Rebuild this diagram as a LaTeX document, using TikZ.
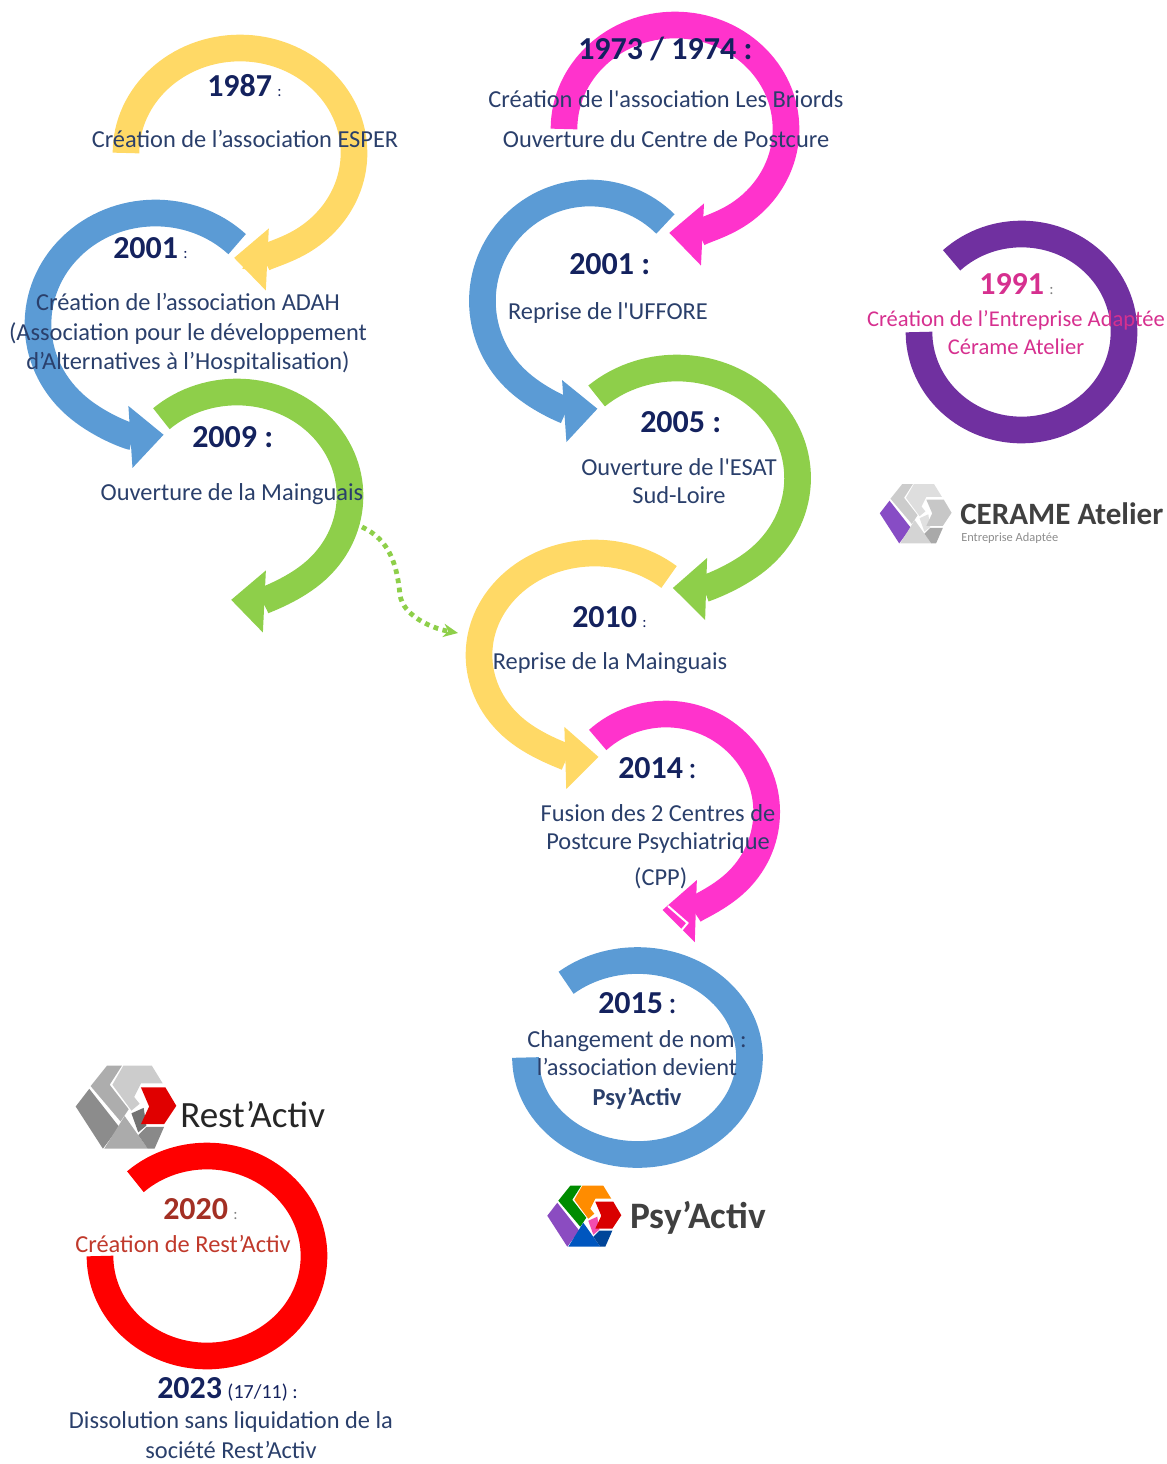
\documentclass[tikz,border=0pt]{standalone}
\usepackage{fontspec}
\setmainfont{Carlito}[Ligatures=TeXOff]
\usetikzlibrary{arrows.meta, positioning}
\definecolor{swirlyellow}{HTML}{FFD966}
\definecolor{swirlblue}{HTML}{5B9BD5}
\definecolor{swirlgreen}{HTML}{8ECF4A}
\definecolor{swirlpink}{HTML}{FF33CC}
\definecolor{ringpurple}{HTML}{7030A0}
\definecolor{ringred}{HTML}{FF0000}
\definecolor{navytext}{HTML}{2A3F6B}
\definecolor{navyyear}{HTML}{14225E}
\definecolor{pinktext}{HTML}{D6308F}
\definecolor{redtext}{HTML}{C0392B}
\definecolor{logotext}{HTML}{404040}
\tikzset{
x=0.75pt, y=0.75pt, % one unit is one pixel of the reference
swirl/.style={line width=20pt, draw=#1, -{Triangle[length=25pt,width=45pt]}}, % curved arrow
ring/.style={line width=20pt, draw=#1}, % open circle, no head
bodytext/.style={inner sep=0pt, align=center, text=navytext, font=\fontsize{18.3}{21}\selectfont},
yeartext/.style={inner sep=0pt, anchor=west, text=navyyear, font=\fontsize{24}{28}\selectfont\bfseries},
dotlink/.style={line width=3.6pt, draw=swirlgreen, dash pattern=on 3.6pt off 3.4pt, -{Stealth[length=11pt,width=10pt]}},
}
% centre x, centre y, x radius, y radius, start angle, end angle
\newcommand{\swirlarc}[7]{\draw[#1] ([shift={(#6:#4 and #5)}]#2,#3) arc[start angle=#6,end angle=#7,x radius=#4,y radius=#5];}
% centre x, centre y, scale, then the six colours of the mark
\newcommand{\hexlogo}[9]{%
  \begin{scope}[shift={(#1,#2)},xscale=#3,yscale=-#3]
    \colorlet{logobase}{#7}
    \fill[#4] (-37,0) -- (-27,-13) -- (-5,15) -- (-17,31) -- cycle;
    \fill[#5] (-26,-15) -- (-14,-30) -- (-3,-30) -- (-12,-16) -- (2,2) -- (-4,11) -- cycle;
    \fill[#6] (-2,-30) -- (19,-30) -- (27,-17) -- (11,-17) -- (6,-7) -- (10,-2) -- (4,3) -- (-10,-16) -- cycle;
    \fill[#7] (-16,31) -- (-1,7) -- (16,31) -- cycle;
    \fill[logobase!80!black] (9,21) -- (15,15) -- (28,15) -- (21,31) -- (16,31) -- cycle;
    \fill[#8] (4,5) -- (13,1) -- (15,14) -- (9,19) -- cycle;
    \fill[#9] (11,-14) -- (29,-14) -- (37,-0.5) -- (28,13) -- (11,13) -- (17,0) -- cycle;
  \end{scope}}

\begin{document}
\begin{tikzpicture}
        \useasboundingbox (0,0) rectangle (1167,-1464);

        % left column
        \swirlarc{swirl=swirlyellow}{240}{-153}{114}{105}{180}{-93}
        \swirlarc{swirl=swirlblue}{155.5}{-324}{117.5}{111}{46}{274}
        \swirlarc{swirl=swirlgreen}{237}{-496}{113}{104}{132}{-93}

        % middle column
        \swirlarc{swirl=swirlpink}{675}{-129}{111}{104}{180}{-93}
        \swirlarc{swirl=swirlblue}{590}{-301}{107.6}{108}{45.5}{274}
        \swirlarc{swirl=swirlgreen}{677}{-478}{120.6}{110}{131.8}{-92}
        \swirlarc{swirl=swirlyellow}{594.6}{-655}{115.6}{102}{49.9}{272}
        \swirlarc{swirl=swirlpink}{666}{-812}{100.7}{98}{132.7}{-92}
        \coordinate (cutA) at (668,-906);
        \coordinate (cutB) at (687.5,-923);
        \coordinate (cutC) at (680,-932);
        \draw[white, line width=1.5pt] (cutA) -- (cutB) -- (cutC);

        % open rings
        \swirlarc{ring=swirlblue}{637.5}{-1057.5}{112}{97}{129.6}{-180}
        \swirlarc{ring=ringpurple}{1021.5}{-332}{102.5}{98}{133}{-180}
        \swirlarc{ring=ringred}{207}{-1256}{107}{100}{132}{-180}

        % dotted link
        \coordinate (dotstart) at (362,-527);
        \coordinate (dotmid) at (400,-595);
        \coordinate (dotend) at (458,-633);
        \draw[dotlink] (dotstart) .. controls (390,-540) and (397,-565) .. (dotmid)
        .. controls (403,-615) and (430,-628) .. (dotend);

        % logos
        \hexlogo{126}{-1106.5}{1.36}{black!45}{black!32}{black!20}{black!33}{black!55}{red!88!black}
        \hexlogo{584.3}{-1215.7}{1}{violet!70!blue!70}{green!55!black}{orange!90!yellow}{blue!55!cyan!75!black}{magenta!70}{red!85!black}
        \hexlogo{915.7}{-513.3}{0.97}{violet!65!blue!70}{black!20}{black!13}{black!17}{black!12}{black!22}
        \node[inner sep=0pt, anchor=west, text=black!85, font=\fontsize{27.8}{30}\selectfont] (restname) at (180,-1115) {Rest’Activ};
        \node[inner sep=0pt, anchor=west, text=logotext, font=\fontsize{28}{30}\selectfont\bfseries] (psyname) at (630,-1218) {Psy’Activ};
        \node[inner sep=0pt, anchor=west, text=logotext, font=\fontsize{23.3}{26}\selectfont\bfseries] (ceramename) at (960,-514) {CERAME Atelier};
        \node[inner sep=0pt, anchor=west, text=black!45, font=\fontsize{9.3}{11}\selectfont] (ceramesub) at (961,-538) {Entreprise Adaptée};

        % left column texts
        \node[yeartext] (y1987) at (207,-86) {1987\,{\normalfont\fontsize{12}{14}\selectfont :}};
        \node[bodytext] (t1987) at (245,-139) {Création de l’association ESPER};
        \node[yeartext] (y2001a) at (113,-248) {2001\,{\normalfont\fontsize{12}{14}\selectfont :}};
        \node[bodytext] (t2001a) at (188,-333) {Création de l’association ADAH\\[1.5pt](Association pour le développement\\[0.7pt]d’Alternatives à l’Hospitalisation)};
        \node[yeartext] (y2009) at (192,-437) {2009 :};
        \node[bodytext] (t2009) at (232,-494) {Ouverture de la Mainguais};

        % middle column texts
        \node[yeartext] (y1973) at (578,-49) {1973 / 1974 :};
        \node[bodytext] (t1973) at (666,-119) {Création de l'association Les Briords\\[9pt]Ouverture du Centre de Postcure};
        \node[yeartext] (y2001b) at (569,-264) {2001 :};
        \node[bodytext] (t2001b) at (608,-313) {Reprise de l'UFFORE};
        \node[yeartext] (y2005) at (640,-422) {2005 :};
        \node[bodytext] (t2005) at (679,-481) {Ouverture de l'ESAT\\Sud-Loire};
        \node[yeartext] (y2010) at (572,-617) {2010\,{\normalfont\fontsize{12}{14}\selectfont :}};
        \node[bodytext] (t2010) at (610,-663) {Reprise de la Mainguais};
        \node[yeartext] (y2014) at (618,-768) {2014\,{\normalfont :}};
        \node[bodytext] (t2014) at (658,-846.5) {Fusion des 2 Centres de\\Postcure Psychiatrique\\[6pt]\hspace*{4pt}(CPP)};
        \node[yeartext] (y2015) at (598,-1003) {2015\,{\normalfont :}};
        \node[bodytext] (t2015) at (637,-1070) {Changement de nom :\\l’association devient\\[1pt]\textbf{Psy’Activ}};

        % rings texts
        \node[yeartext, text=pinktext] (y1991) at (979,-284) {1991\,{\normalfont\fontsize{12}{14}\selectfont\color{gray} :}};
        \node[bodytext, text=pinktext, font=\fontsize{16.9}{21.5}\selectfont] (t1991) at (1016,-332.5) {Création de l’Entreprise Adaptée\\Cérame Atelier};
        \node[yeartext, text=redtext!85!black] (y2020) at (163,-1209) {2020\,{\normalfont\fontsize{12}{14}\selectfont\color{gray} :}};
        \node[bodytext, text=redtext] (t2020) at (183,-1244) {Création de Rest’Activ};
        \node[yeartext] (y2023) at (157,-1389) {2023\,{\normalfont\fontsize{15}{18}\selectfont (17/11) :}};
        \node[bodytext] (t2023) at (231,-1435) {Dissolution sans liquidation de la\\[1pt]société Rest’Activ};
      \end{tikzpicture}
\end{document}
